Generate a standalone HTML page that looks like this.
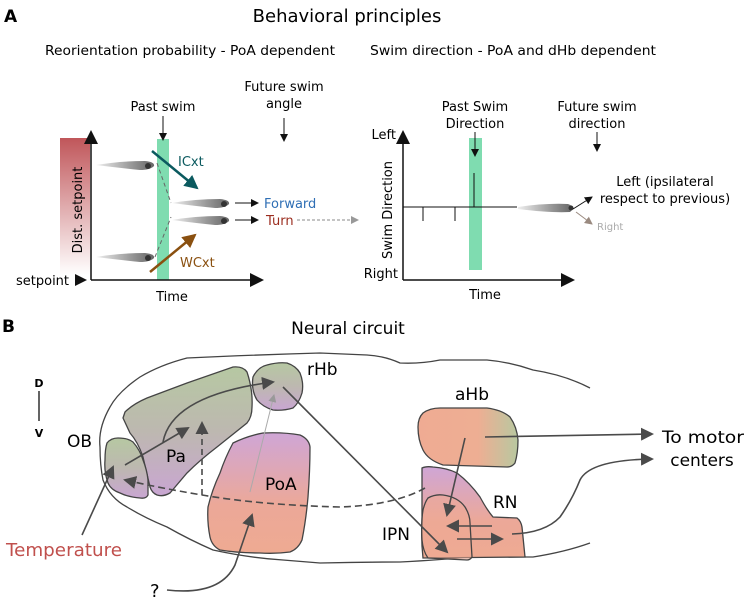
<!DOCTYPE html>
<html><head><meta charset="utf-8"><style>
body{margin:0;background:#fff}
svg{display:block;font-family:"DejaVu Sans","Liberation Sans",sans-serif}
</style></head><body>
<svg width="745" height="600" viewBox="0 0 745 600" xmlns="http://www.w3.org/2000/svg">
<defs>
<marker id="ak" markerWidth="8" markerHeight="8" refX="7" refY="4" orient="auto" markerUnits="userSpaceOnUse"><path d="M0,0 L8,4 L0,8z" fill="#111"/></marker>
<marker id="akb" markerWidth="14" markerHeight="14" refX="12" refY="7" orient="auto" markerUnits="userSpaceOnUse"><path d="M0,0 L14,7 L0,14z" fill="#111"/></marker>
<marker id="ag" markerWidth="13" markerHeight="13" refX="11" refY="6.5" orient="auto" markerUnits="userSpaceOnUse"><path d="M0,0 L13,6.5 L0,13z" fill="#4a4a4a"/></marker>
<marker id="agl" markerWidth="8" markerHeight="8" refX="7" refY="4" orient="auto" markerUnits="userSpaceOnUse"><path d="M0,0 L8,4 L0,8z" fill="#999"/></marker>
<marker id="at" markerWidth="14" markerHeight="14" refX="12" refY="7" orient="auto" markerUnits="userSpaceOnUse"><path d="M0,0 L14,7 L0,14z" fill="#0b5a5f"/></marker>
<marker id="ab" markerWidth="14" markerHeight="14" refX="12" refY="7" orient="auto" markerUnits="userSpaceOnUse"><path d="M0,0 L14,7 L0,14z" fill="#8a5010"/></marker>
<marker id="abr" markerWidth="8" markerHeight="8" refX="7" refY="4" orient="auto" markerUnits="userSpaceOnUse"><path d="M0,0 L8,4 L0,8z" fill="#9a8a80"/></marker>
<linearGradient id="red" x1="0" y1="0" x2="0" y2="1"><stop offset="0" stop-color="#c0565a"/><stop offset="1" stop-color="#fff"/></linearGradient>
<linearGradient id="fish" x1="0" y1="0" x2="1" y2="0"><stop offset="0" stop-color="#eee"/><stop offset="0.6" stop-color="#999"/><stop offset="1" stop-color="#666"/></linearGradient>
<linearGradient id="gp" x1="0" y1="0" x2="0" y2="1"><stop offset="0" stop-color="#b6c8a2"/><stop offset="0.5" stop-color="#bdb8b0"/><stop offset="1" stop-color="#c9a6d2"/></linearGradient>
<linearGradient id="po" x1="0" y1="0" x2="0" y2="1"><stop offset="0" stop-color="#cfa6d6"/><stop offset="0.6" stop-color="#eca898"/><stop offset="1" stop-color="#eeaa92"/></linearGradient>
<linearGradient id="ah" x1="0" y1="0" x2="1" y2="0"><stop offset="0" stop-color="#efab93"/><stop offset="0.6" stop-color="#eeae93"/><stop offset="1" stop-color="#b8c8a0"/></linearGradient>
</defs>

<!-- Panel A -->
<text x="4" y="22" font-size="17" font-weight="bold">A</text>
<text x="347" y="22" font-size="18" text-anchor="middle">Behavioral principles</text>
<text x="45" y="55" font-size="13" textLength="290" lengthAdjust="spacingAndGlyphs">Reorientation probability - PoA dependent</text>
<text x="370" y="55" font-size="13" textLength="286" lengthAdjust="spacingAndGlyphs">Swim direction - PoA and dHb dependent</text>

<rect x="60" y="138" width="30" height="137" fill="url(#red)"/>
<rect x="157" y="139" width="12" height="141" fill="#7fdcb0"/>
<line x1="91" y1="280" x2="91" y2="132" stroke="#111" stroke-width="1.5" marker-end="url(#akb)"/>
<line x1="91" y1="280" x2="262" y2="280" stroke="#111" stroke-width="1.5" marker-end="url(#akb)"/>
<text x="82" y="210" font-size="13" transform="rotate(-90 82 210)" text-anchor="middle">Dist. setpoint</text>
<text x="16" y="285" font-size="13">setpoint</text>
<path d="M75,274 L87,280 L75,286z" fill="#111"/>
<text x="163" y="111" font-size="13" text-anchor="middle">Past swim</text>
<line x1="163" y1="116" x2="163" y2="140" stroke="#111" marker-end="url(#ak)"/>
<text x="284" y="91" font-size="13" text-anchor="middle">Future swim</text>
<text x="284" y="108" font-size="13" text-anchor="middle">angle</text>
<line x1="284" y1="118" x2="284" y2="141" stroke="#111" marker-end="url(#ak)"/>
<g>
<path d="M96,165 Q120,161 145,161 Q155,162 154,166 Q150,170 140,170 Q120,168 96,165z" fill="url(#fish)"/>
<path d="M96,257 Q120,253 145,253 Q155,254 154,258 Q150,262 140,262 Q120,260 96,257z" fill="url(#fish)"/>
<path d="M172,203 Q195,199 220,199 Q230,200 229,204 Q225,208 215,208 Q195,206 172,203z" fill="url(#fish)"/>
<path d="M172,220 Q195,216 220,216 Q230,217 229,221 Q225,225 215,225 Q195,223 172,220z" fill="url(#fish)"/>
<circle cx="148" cy="166" r="3" fill="#333"/><circle cx="148" cy="258" r="3" fill="#333"/>
<circle cx="224" cy="204" r="3" fill="#333"/><circle cx="224" cy="221" r="3" fill="#333"/>
</g>
<path d="M157,163 L171,203 M155,257 L171,217" stroke="#666" stroke-dasharray="4,3" fill="none"/>
<line x1="152" y1="151" x2="197" y2="188" stroke="#0b5a5f" stroke-width="2.5" marker-end="url(#at)"/>
<line x1="150" y1="272" x2="195" y2="235" stroke="#8a5010" stroke-width="2.5" marker-end="url(#ab)"/>
<text x="178" y="166" font-size="13" fill="#0b5a5f">ICxt</text>
<text x="180" y="267" font-size="13" fill="#8a5010">WCxt</text>
<line x1="235" y1="203" x2="258" y2="203" stroke="#111" marker-end="url(#ak)"/>
<line x1="235" y1="220" x2="258" y2="220" stroke="#111" marker-end="url(#ak)"/>
<text x="264" y="208" font-size="13" fill="#2f6fb5">Forward</text>
<text x="266" y="225" font-size="13" fill="#9b2d1f">Turn</text>
<line x1="297" y1="220" x2="358" y2="220" stroke="#888" stroke-dasharray="3,2" marker-end="url(#agl)"/>
<text x="172" y="301" font-size="13" text-anchor="middle">Time</text>

<rect x="469" y="138" width="13" height="132" fill="#7fdcb0"/>
<line x1="403" y1="280" x2="403" y2="132" stroke="#111" stroke-width="1.5" marker-end="url(#akb)"/>
<line x1="403" y1="280" x2="573" y2="280" stroke="#111" stroke-width="1.5" marker-end="url(#akb)"/>
<text x="396" y="139" font-size="13" text-anchor="end">Left</text>
<text x="398" y="278" font-size="13" text-anchor="end">Right</text>
<text x="392" y="210" font-size="13" transform="rotate(-90 392 210)" text-anchor="middle">Swim Direction</text>
<line x1="403" y1="207" x2="517" y2="207" stroke="#111"/>
<path d="M423,207 V221 M455,207 V221 M474,207 V173" stroke="#111"/>
<path d="M518,207 Q545,203 568,204 Q576,207 570,212 Q550,213 518,209z" fill="url(#fish)"/>
<circle cx="571" cy="208" r="2.5" fill="#333"/>
<text x="475" y="111" font-size="13" text-anchor="middle">Past Swim</text>
<text x="475" y="128" font-size="13" text-anchor="middle">Direction</text>
<line x1="475" y1="132" x2="475" y2="156" stroke="#111" marker-end="url(#ak)"/>
<text x="597" y="111" font-size="13" text-anchor="middle">Future swim</text>
<text x="597" y="128" font-size="13" text-anchor="middle">direction</text>
<line x1="597" y1="132" x2="597" y2="151" stroke="#111" marker-end="url(#ak)"/>
<line x1="573" y1="209" x2="592" y2="197" stroke="#111" marker-end="url(#ak)"/>
<line x1="576" y1="212" x2="592" y2="224" stroke="#9a8a80" marker-end="url(#abr)"/>
<text x="665" y="186" font-size="13" text-anchor="middle">Left (ipsilateral</text>
<text x="665" y="203" font-size="13" text-anchor="middle">respect to previous)</text>
<text x="597" y="230" font-size="10" fill="#aaa">Right</text>
<text x="485" y="299" font-size="13" text-anchor="middle">Time</text>

<!-- Panel B -->
<text x="2" y="332" font-size="17" font-weight="bold">B</text>
<text x="348" y="334" font-size="17" text-anchor="middle">Neural circuit</text>
<text x="39" y="387" font-size="11" font-weight="bold" text-anchor="middle">D</text>
<line x1="39" y1="391" x2="39" y2="421" stroke="#111" stroke-width="1.3"/>
<text x="39" y="437" font-size="11" font-weight="bold" text-anchor="middle">V</text>

<path d="M590,388 Q565,375 533,370 Q510,362 487,360 L440,360 Q420,364 400,363 Q385,356 367,355 L320,353 Q250,355 187,358 Q160,365 140,377 Q118,392 110,407 Q98,428 100,447 Q100,465 103,480 Q110,498 127,507 Q145,518 167,527 Q190,540 213,550 Q250,558 283,560 L320,563 Q360,562 400,562 Q440,560 467,557 L533,557 Q565,552 590,543" fill="none" stroke="#444" stroke-width="1.3"/>

<path d="M123,418 L125,412 Q133,404 147,398 L187,383 L233,367 Q243,366 247,372 Q253,390 252,407 Q252,417 247,423 L217,447 Q200,460 187,473 L170,493 Q163,497 157,495 Q152,493 150,487 Q146,470 143,457 Q138,442 130,433z" fill="url(#gp)" stroke="#444" stroke-width="1.3"/>
<path d="M107,443 Q111,438 118,438 Q128,438 133,442 Q140,450 143,460 Q147,470 148,480 L148,495 Q146,499 140,498 Q128,497 120,493 Q111,490 108,483 Q104,472 105,460 Q105,449 107,443z" fill="url(#gp)" stroke="#444" stroke-width="1.3"/>
<path d="M253,377 Q258,367 267,365 Q278,362 287,363 Q296,366 300,373 Q304,383 302,393 Q299,403 293,408 Q283,411 273,410 Q263,407 257,400 Q251,390 253,377z" fill="url(#gp)" stroke="#444" stroke-width="1.3"/>
<path d="M233,443 Q247,436 263,433 Q283,432 300,435 Q309,439 310,447 Q310,470 308,497 Q306,520 302,540 Q298,549 290,552 Q275,554 260,553 Q238,553 220,550 Q212,546 210,537 Q207,522 208,507 Q212,490 220,473 Q225,458 233,443z" fill="url(#po)" stroke="#444" stroke-width="1.3"/>
<path d="M423,413 Q430,408 440,408 L487,408 Q502,410 510,417 Q517,427 518,440 Q518,453 515,463 Q512,467 507,467 L443,465 Q428,460 423,450 Q418,440 418,427 Q418,418 423,413z" fill="url(#ah)" stroke="#444" stroke-width="1.3"/>
<path d="M422,468 Q426,466 433,467 Q447,468 457,473 Q470,483 480,497 Q487,510 493,517 L517,518 Q521,521 522,527 L525,557 L423,558 Q421,540 422,523z" fill="url(#po)" stroke="#444" stroke-width="1.3"/>
<path d="M428,498 Q435,494 443,495 Q458,497 465,507 Q470,515 470,523 L472,557 Q470,560 467,560 L428,558 Q423,551 422,540 Q421,522 423,510 Q425,502 428,498z" fill="#efa994" fill-opacity="0.55" stroke="#444" stroke-width="1.3"/>

<g stroke="#4a4a4a" stroke-width="1.6" fill="none">
<path d="M82,535 L113,467" marker-end="url(#ag)"/>
<path d="M125,465 L188,428" marker-end="url(#ag)"/>
<path d="M163,442 Q172,395 273,382" marker-end="url(#ag)"/>
<path d="M202,495 L202,423" stroke-dasharray="6,4" marker-end="url(#ag)"/>
<path d="M425,488 Q395,505 340,507 Q260,505 202,495 Q160,488 125,480" stroke-dasharray="7,4" marker-end="url(#ag)"/>
<path d="M283,387 L447,552" marker-end="url(#ag)"/>
<path d="M465,438 L447,515" marker-end="url(#ag)"/>
<path d="M492,526 L448,526" marker-end="url(#ag)"/>
<path d="M457,539 L502,539" marker-end="url(#ag)"/>
<path d="M485,437 L652,434" marker-end="url(#ag)"/>
<path d="M512,534 Q545,533 560,517 Q572,500 580,480 Q590,460 652,459" marker-end="url(#ag)"/>
<path d="M167,590 Q220,596 235,565 L252,515" marker-end="url(#ag)"/>
</g>
<line x1="250" y1="492" x2="274" y2="395" stroke="#aaa" stroke-width="1" marker-end="url(#agl)"/>

<text x="67" y="447" font-size="17">OB</text>
<text x="166" y="462" font-size="17">Pa</text>
<text x="265" y="490" font-size="17">PoA</text>
<text x="307" y="375" font-size="17">rHb</text>
<text x="455" y="400" font-size="17">aHb</text>
<text x="493" y="508" font-size="17">RN</text>
<text x="382" y="540" font-size="17">IPN</text>
<text x="6" y="556" font-size="18" fill="#c0504d" textLength="116" lengthAdjust="spacingAndGlyphs">Temperature</text>
<text x="150" y="597" font-size="18">?</text>
<text x="703" y="443" font-size="17" text-anchor="middle" textLength="82" lengthAdjust="spacingAndGlyphs">To motor</text>
<text x="702" y="466" font-size="17" text-anchor="middle">centers</text>
</svg>
</body></html>
